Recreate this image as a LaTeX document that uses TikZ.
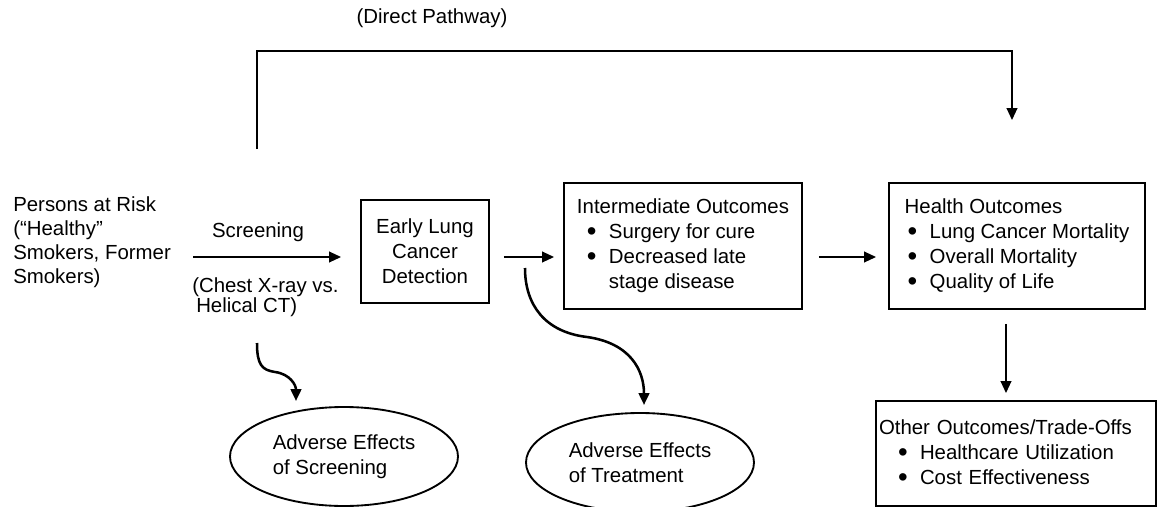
\documentclass[tikz,border=0pt]{standalone}
\usepackage{fontspec}
\setmainfont{Liberation Sans}
\usetikzlibrary{shapes.geometric, arrows.meta}

\newcommand{\bul}[1][2.25pt]{\hspace*{#1}\makebox[16.5pt][l]{\raisebox{-0.1em}{\scalebox{1.35}{\textbullet}}}}

\begin{document}
\begin{tikzpicture}[x=0.75pt, y=-0.75pt,
  every node/.style={font=\fontsize{15.3}{18.75}\selectfont},
  box/.style={draw, line width=1.4pt, inner sep=0pt, align=left},
  oval/.style={draw, ellipse, line width=1.4pt, inner sep=0pt, minimum width=171pt, minimum height=74.25pt, align=left},
  arr/.style={line width=1.4pt, -{Triangle[length=9pt, width=8pt]}},
  wavy/.style={line width=1.9pt, -{Triangle[length=9pt, width=8pt]}}]

\useasboundingbox (0,0) rectangle (1158,507);

\node (direct) at (432,18) {(Direct Pathway)};

\node[anchor=west, align=left, inner sep=0pt, font=\fontsize{15.3}{17.9}\selectfont] (risk) at (13,242.5) {Persons at Risk\\(“Healthy”\\Smokers, Former\\Smokers)};
\node (scr) at (258,232) {Screening};
\node[anchor=west, align=left, inner sep=0pt, font=\fontsize{15.3}{15}\selectfont] (chest) at (192,297) {(Chest X-ray vs.\\\hspace*{3pt}Helical CT)};

\node[box, align=center, minimum width=96pt, minimum height=77.25pt] (early) at (425,251.5) {Early Lung\\Cancer\\Detection};
\node[box, minimum width=178.5pt, minimum height=94.5pt] (inter) at (683,246) {Intermediate Outcomes\\\bul[7.5pt]Surgery for cure\\\bul[7.5pt]Decreased late\\\hspace*{24pt}stage disease};
\node[box, minimum width=192pt, minimum height=94.5pt] (health) at (1017,246) {Health Outcomes\\\bul Lung Cancer Mortality\\\bul Overall Mortality\\\bul Quality of Life};
\node[box, text width=205.5pt, inner xsep=2.25pt, minimum height=78.75pt] (other) at (1016,453.5) {Other Outcomes/Trade-Offs\\\bul[14.25pt]Healthcare Utilization\\\bul[14.25pt]Cost Effectiveness};

\node[oval] (adv1) at (344,456.5) {Adverse Effects\\of Screening};
\node[oval] (adv2) at (640,462.5) {Adverse Effects\\of Treatment};

\coordinate (row) at (0,257);
\coordinate (col) at (1006,0);
\coordinate (scrstart) at (193,257);
\draw[arr, shorten >=14.25pt] (scrstart) -- (scrstart -| early.west);
\draw[arr, shorten <=10.5pt, shorten >=6.75pt] (early.east |- row) -- (inter.west |- row);
\draw[arr, shorten <=12pt, shorten >=9pt] (inter.east |- row) -- (health.west |- row);
\draw[arr, shorten <=10.5pt, shorten >=5.25pt] (health.south -| col) -- (other.north -| col);

\coordinate (dpstart) at (257,149);
\coordinate (dptop) at (257,51);
\coordinate (dpcol) at (1012,0);
\draw[arr, shorten >=46.5pt] (dpstart) -- (dptop) -| (health.north -| dpcol);

\coordinate (w1s) at (257,343);
\coordinate (w1e) at (296,401);
\draw[wavy] (w1s) .. controls (257,365) and (262,370) .. (275,372) .. controls (290,374) and (296,385) .. (w1e);

\coordinate (w2s) at (525,268);
\coordinate (w2e) at (644,405);
\draw[wavy] (w2s) .. controls (525,305) and (545,332) .. (587,337) .. controls (630,343) and (644,370) .. (w2e);

\end{tikzpicture}
\end{document}
